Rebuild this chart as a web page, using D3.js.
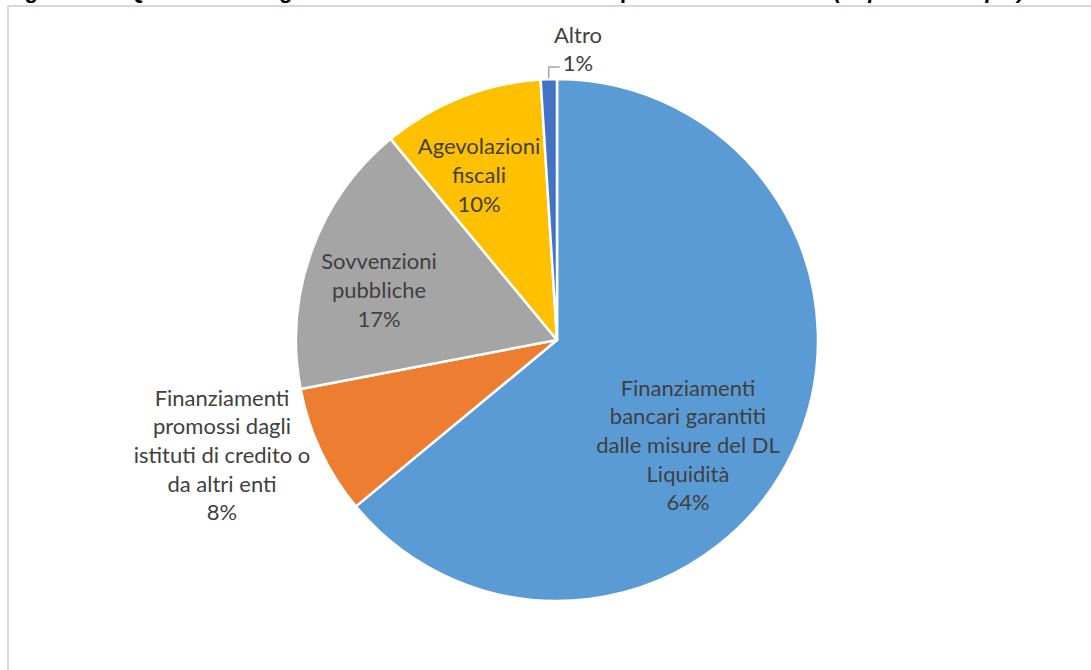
<!DOCTYPE html>
<html>
<head>
<meta charset="utf-8">
<script src="https://cdn.jsdelivr.net/npm/d3@7"></script>
<style>
  body { margin: 0; background: #fff; }
  svg { display: block; }
</style>
</head>
<body>
<svg id="chart" width="1091" height="670"></svg>
<script>
// Share of firms by type of support obtained (percent)
const categories = [
  "Finanziamenti bancari garantiti dalle misure del DL Liquidità",
  "Finanziamenti promossi dagli istituti di credito o da altri enti",
  "Sovvenzioni pubbliche",
  "Agevolazioni fiscali",
  "Altro"
];
const shares = [64, 8, 17, 10, 1];
const labelLines = [
  ["Finanziamenti", "bancari garantiti", "dalle misure del DL", "Liquidità"],
  ["Finanziamenti", "promossi dagli", "istituti di credito o", "da altri enti"],
  ["Sovvenzioni", "pubbliche"],
  ["Agevolazioni", "fiscali"],
  ["Altro"]
];
const colors = ["#5B9BD5", "#ED7D31", "#A5A5A5", "#FFC000", "#4472C4"];

// Layout
const W = 1091, H = 670;
const cx = 557, cy = 340, R = 261;
const lineH = 28.6;
const fontFamily = "Lato, 'Liberation Sans', sans-serif";
const fontSize = 22;
// label block centres, relative to the pie centre
const labelOffset = [[131, 105], [-335, 115], [-178, -50], [-78, -165], [21, -291]];

const svg = d3.select("#chart");

// Frame
svg.append("rect")
  .attr("x", 8).attr("y", 6)
  .attr("width", W + 20).attr("height", H + 20)
  .attr("fill", "none").attr("stroke", "#d9d9d9").attr("stroke-width", 2);

// Heading, mostly above the visible area
const title = svg.append("text")
  .attr("x", 5).attr("y", -2)
  .attr("font-family", "'Liberation Sans', Arial, sans-serif")
  .attr("font-weight", "bold").attr("font-size", 22)
  .attr("fill", "#000");
title.append("tspan").text("Figura 12 – Quali misure agevolative hanno sostenuto la liquidità delle aziende ");
title.append("tspan").attr("font-style", "italic").text("(risposta multipla)");

const data = categories.map((c, i) => ({ name: c, value: shares[i], color: colors[i], lines: labelLines[i], i }));

const pie = d3.pie().value(d => d.value).sort(null);
const arcs = pie(data);
const arc = d3.arc().innerRadius(0).outerRadius(R);

const g = svg.append("g").attr("transform", `translate(${cx},${cy})`);

g.selectAll("path.slice")
  .data(arcs)
  .join("path")
  .attr("class", "slice")
  .attr("d", arc)
  .attr("fill", d => d.data.color)
  .attr("stroke", "#fff")
  .attr("stroke-width", 2.5)
  .attr("stroke-linejoin", "round");

// Leader line for the smallest slice
const small = arcs[4];
const mid = (small.startAngle + small.endAngle) / 2;
const p0 = d3.pointRadial(mid, R + 1);
const elbowY = -R - 12;
g.append("polyline")
  .attr("points", [[p0[0], p0[1]], [p0[0], elbowY], [p0[0] + 11, elbowY]].map(p => p.join(",")).join(" "))
  .attr("fill", "none").attr("stroke", "#a6a6a6").attr("stroke-width", 1.5);

// Data labels: category lines followed by the percentage
arcs.forEach((d, i) => {
  const lines = d.data.lines.concat([d.data.value + "%"]);
  const [ox, oy] = labelOffset[i];
  const n = lines.length;
  const t = g.append("text")
    .attr("font-family", fontFamily)
    .attr("font-size", fontSize)
    .attr("fill", "#404040")
    .attr("text-anchor", "middle");
  lines.forEach((ln, k) => {
    t.append("tspan")
      .attr("x", ox)
      .attr("y", oy + (k - (n - 1) / 2) * lineH + 8)
      .text(ln);
  });
});
</script>
</body>
</html>
